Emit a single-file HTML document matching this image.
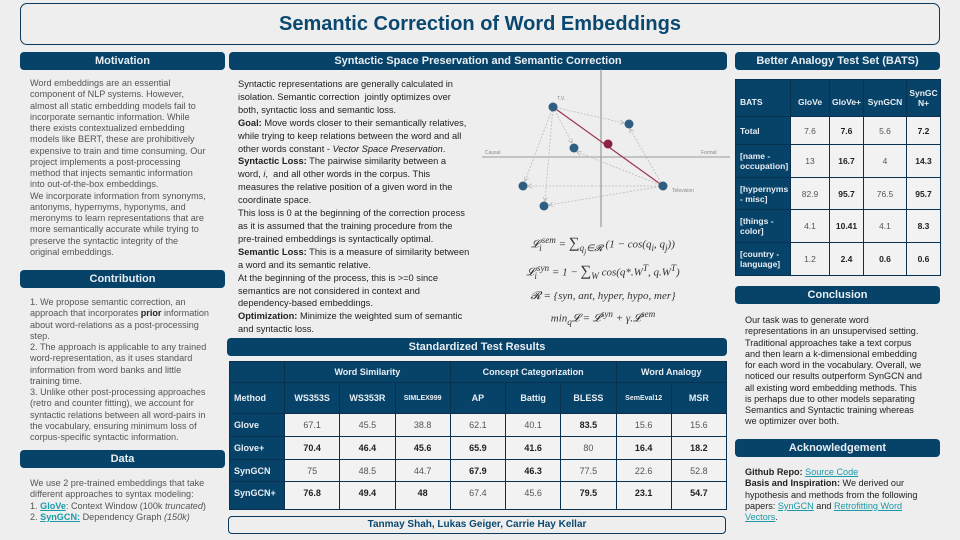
<!DOCTYPE html>
<html><head><meta charset="utf-8">
<style>
*{box-sizing:border-box;margin:0;padding:0}
body{width:960px;height:540px;background:#eeeeee;font-family:"Liberation Sans",sans-serif;position:relative;overflow:hidden}
.abs{position:absolute}
.hdr{position:absolute;background:#074369;color:#e8eef3;border-radius:4px;text-align:center;font-size:11px;font-weight:bold;line-height:18px;height:18px}
.txt{position:absolute;font-size:9.1px;line-height:11.25px;color:#555;white-space:nowrap}
.mid{color:#222;line-height:12.9px;font-size:9.3px}
b{color:#222}
a{color:#1a9aa8;text-decoration:underline}
table{border-collapse:collapse;position:absolute;font-size:9px;table-layout:fixed}
td,th{border:1px solid #0a3150;text-align:center;padding:0}
th{background:#074369;color:#e8eef3;font-weight:bold}
td.l,th.l{text-align:left;padding-left:4px}
td{background:#f2f2f2;color:#555}
td.b{font-weight:bold;color:#222}
td.rh{background:#074369;color:#e8eef3;font-weight:bold;text-align:left;padding-left:4px}
.f{position:absolute;font-family:"Liberation Serif",serif;font-style:italic;font-size:11px;color:#333;white-space:nowrap;text-align:center;width:240px;left:483px}
</style></head><body>
<div class="abs" style="left:20px;top:3px;width:920px;height:42px;border:1px solid #0a3a5e;border-radius:7px;text-align:center;font-size:20px;font-weight:bold;color:#0a4870;line-height:40px">Semantic Correction of Word Embeddings</div>

<div class="hdr" style="left:20px;top:52px;width:205px">Motivation</div>
<div class="txt" style="left:30px;top:78px">Word embeddings are an essential<br>component of NLP systems. However,<br>almost all static embedding models fail to<br>incorporate semantic information. While<br>there exists contextualized embedding<br>models like BERT, these are prohibitively<br>expensive to train and time consuming. Our<br>project implements a post-processing<br>method that injects semantic information<br>into out-of-the-box embeddings.<br>We incorporate information from synonyms,<br>antonyms, hypernyms, hyponyms, and<br>meronyms to learn representations that are<br>more semantically accurate while trying to<br>preserve the syntactic integrity of the<br>original embeddings.</div>

<div class="hdr" style="left:20px;top:270px;width:205px">Contribution</div>
<div class="txt" style="left:30px;top:297px">1. We propose semantic correction, an<br>approach that incorporates <b>prior</b> information<br>about word-relations as a post-processing<br>step.<br>2. The approach is applicable to any trained<br>word-representation, as it uses standard<br>information from word banks and little<br>training time.<br>3. Unlike other post-processing approaches<br>(retro and counter fitting), we account for<br>syntactic relations between all word-pairs in<br>the vocabulary, ensuring minimum loss of<br>corpus-specific syntactic information.</div>

<div class="hdr" style="left:20px;top:450px;width:205px">Data</div>
<div class="txt" style="left:30px;top:478px">We use 2 pre-trained embeddings that take<br>different approaches to syntax modeling:<br>1. <a><b style="color:#1a9aa8">GloVe</b></a>: Context Window (100k <i>truncated</i>)<br>2. <a><b style="color:#1a9aa8">SynGCN:</b></a> Dependency Graph <i>(150k)</i></div>

<div class="hdr" style="left:229px;top:52px;width:498px">Syntactic Space Preservation and Semantic Correction</div>
<div class="txt mid" style="left:238px;top:78px">Syntactic representations are generally calculated in<br>isolation. Semantic correction&nbsp; jointly optimizes over<br>both, syntactic loss and semantic loss.<br><b>Goal:</b> Move words closer to their semantically relatives,<br>while trying to keep relations between the word and all<br>other words constant - <i>Vector Space Preservation</i>.<br><b>Syntactic Loss:</b> The pairwise similarity between a<br>word, <i>i</i>,&nbsp; and all other words in the corpus. This<br>measures the relative position of a given word in the<br>coordinate space.<br>This loss is 0 at the beginning of the correction process<br>as it is assumed that the training procedure from the<br>pre-trained embeddings is syntactically optimal.<br><b>Semantic Loss:</b> This is a measure of similarity between<br>a word and its semantic relative.<br>At the beginning of the process, this is &gt;=0 since<br>semantics are not considered in context and<br>dependency-based embeddings.<br><b>Optimization:</b> Minimize the weighted sum of semantic<br>and syntactic loss.</div>

<svg class="abs" style="left:0;top:0" width="960" height="540">
<defs><marker id="ar" markerWidth="6" markerHeight="6" refX="5" refY="3" orient="auto"><path d="M0,0 L5,3 L0,6" fill="none" stroke="#aaa" stroke-width="0.8"/></marker></defs>
<line x1="601" y1="69" x2="601" y2="227" stroke="#888" stroke-width="1"/>
<line x1="482" y1="157" x2="730" y2="157" stroke="#999" stroke-width="1"/>
<g stroke="#bbb" stroke-width="0.8" stroke-dasharray="2,1.5" marker-end="url(#ar)">
<line x1="553" y1="107" x2="624" y2="123"/>
<line x1="553" y1="107" x2="572" y2="143"/>
<line x1="553" y1="107" x2="525" y2="181"/>
<line x1="553" y1="107" x2="545" y2="201"/>
<line x1="663" y1="186" x2="630" y2="129"/>
<line x1="663" y1="186" x2="577" y2="152"/>
<line x1="663" y1="186" x2="528" y2="186"/>
<line x1="663" y1="186" x2="549" y2="205"/>
</g>
<line x1="553" y1="107" x2="663" y2="186" stroke="#9a3550" stroke-width="1.2"/>
<g fill="#2e5f82"><circle cx="553" cy="107" r="4.5"/><circle cx="629" cy="124" r="4.5"/><circle cx="574" cy="148" r="4.5"/><circle cx="663" cy="186" r="4.5"/><circle cx="523" cy="186" r="4.5"/><circle cx="544" cy="206" r="4.5"/></g>
<circle cx="608" cy="144" r="4.5" fill="#8a2440"/>
<g font-size="5px" fill="#888" font-family="Liberation Sans"><text x="557" y="100">T.V.</text><text x="485" y="154">Causal</text><text x="701" y="154">Formal</text><text x="672" y="192">Television</text></g>
</svg>
<div class="f" style="top:235px">𝓛<sub>i</sub><sup>sem</sup> = <span style="font-style:normal;font-size:15px">∑</span><sub>q<sub>j</sub>∈𝓡</sub> (1 − cos(q<sub>i</sub>, q<sub>j</sub>))</div>
<div class="f" style="top:263px">𝓛<sub>i</sub><sup>syn</sup> = 1 − <span style="font-style:normal;font-size:15px">∑</span><sub>W</sub> cos(q*.W<sup>T</sup>, q.W<sup>T</sup>)</div>
<div class="f" style="top:290px">𝓡 = {syn, ant, hyper, hypo, mer}</div>
<div class="f" style="top:309px">min<sub>q</sub>𝓛 = 𝓛<sup>syn</sup> + γ.𝓛<sup>sem</sup></div>

<div class="hdr" style="left:227px;top:338px;width:500px">Standardized Test Results</div>
<table style="left:229px;top:361px;width:497px">
<colgroup><col style="width:55px"><col span="8" style="width:55.25px"></colgroup>
<tr style="height:21px"><th></th><th colspan="3">Word Similarity</th><th colspan="3">Concept Categorization</th><th colspan="2">Word Analogy</th></tr>
<tr style="height:31px"><th class="l">Method</th><th>WS353S</th><th>WS353R</th><th style="font-size:7px">SIMLEX999</th><th>AP</th><th>Battig</th><th>BLESS</th><th style="font-size:7px">SemEval12</th><th>MSR</th></tr>
<tr style="height:23px"><td class="rh">Glove</td><td>67.1</td><td>45.5</td><td>38.8</td><td>62.1</td><td>40.1</td><td class="b">83.5</td><td>15.6</td><td>15.6</td></tr>
<tr style="height:23px"><td class="rh">Glove+</td><td class="b">70.4</td><td class="b">46.4</td><td class="b">45.6</td><td class="b">65.9</td><td class="b">41.6</td><td>80</td><td class="b">16.4</td><td class="b">18.2</td></tr>
<tr style="height:22px"><td class="rh">SynGCN</td><td>75</td><td>48.5</td><td>44.7</td><td class="b">67.9</td><td class="b">46.3</td><td>77.5</td><td>22.6</td><td>52.8</td></tr>
<tr style="height:28px"><td class="rh" style="vertical-align:top;padding-top:6px">SynGCN+</td><td class="b" style="vertical-align:top;padding-top:6px">76.8</td><td class="b" style="vertical-align:top;padding-top:6px">49.4</td><td class="b" style="vertical-align:top;padding-top:6px">48</td><td style="vertical-align:top;padding-top:6px">67.4</td><td style="vertical-align:top;padding-top:6px">45.6</td><td class="b" style="vertical-align:top;padding-top:6px">79.5</td><td class="b" style="vertical-align:top;padding-top:6px">23.1</td><td class="b" style="vertical-align:top;padding-top:6px">54.7</td></tr>
</table>
<div class="abs" style="left:228px;top:516px;width:498px;height:18px;border:1px solid #0a3a5e;border-radius:4px;text-align:center;font-size:10px;font-weight:bold;color:#0a4870;line-height:16px">Tanmay Shah, Lukas Geiger, Carrie Hay Kellar</div>

<div class="hdr" style="left:735px;top:52px;width:205px">Better Analogy Test Set (BATS)</div>
<table style="left:735px;top:79px;width:205px;font-size:8.5px">
<colgroup><col style="width:55px"><col style="width:39px"><col style="width:34px"><col style="width:43px"><col style="width:34px"></colgroup>
<tr style="height:37px"><th class="l" style="padding-top:8px">BATS</th><th style="padding-top:8px">GloVe</th><th style="padding-top:8px">GloVe+</th><th style="padding-top:8px">SynGCN</th><th>SynGC<br>N+</th></tr>
<tr style="height:28px"><td class="rh">Total</td><td>7.6</td><td class="b">7.6</td><td>5.6</td><td class="b">7.2</td></tr>
<tr style="height:33px"><td class="rh">[name -<br>occupation]</td><td>13</td><td class="b">16.7</td><td>4</td><td class="b">14.3</td></tr>
<tr style="height:32px"><td class="rh">[hypernyms<br>- misc]</td><td>82.9</td><td class="b">95.7</td><td>76.5</td><td class="b">95.7</td></tr>
<tr style="height:33px"><td class="rh">[things -<br>color]</td><td>4.1</td><td class="b">10.41</td><td>4.1</td><td class="b">8.3</td></tr>
<tr style="height:33px"><td class="rh">[country -<br>language]</td><td>1.2</td><td class="b">2.4</td><td class="b">0.6</td><td class="b">0.6</td></tr>
</table>

<div class="hdr" style="left:735px;top:286px;width:205px">Conclusion</div>
<div class="txt" style="left:745px;top:315px;color:#222">Our task was to generate word<br>representations in an unsupervised setting.<br>Traditional approaches take a text corpus<br>and then learn a k-dimensional embedding<br>for each word in the vocabulary. Overall, we<br>noticed our results outperform SynGCN and<br>all existing word embedding methods. This<br>is perhaps due to other models separating<br>Semantics and Syntactic training whereas<br>we optimizer over both.</div>

<div class="hdr" style="left:735px;top:439px;width:205px">Acknowledgement</div>
<div class="txt" style="left:745px;top:467px;color:#222"><b>Github Repo:</b> <a>Source Code</a><br><b>Basis and Inspiration:</b> We derived our<br>hypothesis and methods from the following<br>papers: <a>SynGCN</a> and <a>Retrofitting Word</a><br><a>Vectors</a>.</div>
</body></html>
